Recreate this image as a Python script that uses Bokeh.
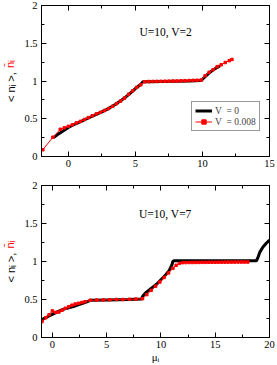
from bokeh.plotting import figure
from bokeh.models import (Range1d, FixedTicker, LinearAxis, Label, Legend,
                          LegendItem, CustomJSTickFormatter)
from bokeh.layouts import column
from bokeh.embed import file_html
from bokeh.resources import INLINE

# ---------------- data ----------------
# top panel: U=10, V=2
top_black_mu = [-1.1, -0.8, -0.5, -0.2, 0.0, 0.5, 1.0, 1.5, 2.0, 2.5, 3.0, 3.5, 4.0,
                4.5, 5.0, 5.3, 5.45, 5.55, 6.0, 7.0, 8.0, 9.0, 9.9, 10.1, 10.4,
                10.7, 11.0, 11.3]
top_black_n = [0.25, 0.29, 0.325, 0.36, 0.385, 0.43, 0.47, 0.51, 0.55, 0.59, 0.635,
               0.69, 0.75, 0.82, 0.90, 0.94, 0.965, 0.99, 0.99, 0.993, 0.997, 1.0,
               1.005, 1.04, 1.09, 1.135, 1.17, 1.2]

top_red_mu = [-1.9, -1.15, -0.6, -0.3, 0.0, 0.3, 0.6, 0.9, 1.2, 1.5, 1.8, 2.1, 2.4,
              2.7, 3.0, 3.3, 3.6, 3.9, 4.2, 4.5, 4.8, 5.1, 5.4, 5.7, 6.0, 6.3, 6.6,
              6.9, 7.2, 7.5, 7.8, 8.1, 8.4, 8.7, 9.0, 9.3, 9.6, 9.9, 10.2, 10.5,
              10.8, 11.1, 11.4, 11.7, 12.0, 12.2]
top_red_n = [0.09, 0.255, 0.36, 0.38, 0.40, 0.42, 0.445, 0.465, 0.49, 0.515, 0.54,
             0.565, 0.585, 0.61, 0.635, 0.665, 0.70, 0.735, 0.775, 0.825, 0.87,
             0.915, 0.95, 0.99, 0.993, 0.994, 0.995, 0.996, 0.997, 0.998, 0.999,
             1.0, 1.002, 1.004, 1.006, 1.008, 1.01, 1.012, 1.07, 1.115, 1.15, 1.19,
             1.215, 1.245, 1.27, 1.285]

# bottom panel: U=10, V=7
bot_black_mu = [-0.95, -0.5, 0.0, 0.5, 1.0, 1.5, 2.0, 2.5, 3.0, 3.5, 5.0, 7.0, 8.2,
                8.35, 8.6, 9.1, 9.6, 10.0, 10.4, 10.75, 11.0, 11.1, 11.2, 13.0, 15.0,
                17.0, 18.8, 18.9, 19.1, 19.4, 19.7, 20.0]
bot_black_n = [0.235, 0.27, 0.305, 0.34, 0.37, 0.39, 0.41, 0.435, 0.46, 0.49, 0.495,
               0.50, 0.505, 0.55, 0.59, 0.645, 0.70, 0.76, 0.82, 0.88, 0.95, 1.0,
               1.01, 1.01, 1.01, 1.01, 1.01, 1.04, 1.12, 1.19, 1.24, 1.28]

bot_red_mu = [-0.95, -0.6, -0.3, 0.0, 0.3, 0.6, 0.9, 1.2, 1.5, 1.8, 2.1, 2.4, 2.7,
              3.0, 3.5, 4.1, 4.7, 5.3, 5.9, 6.5, 7.1, 7.7, 8.3, 8.7, 9.1, 9.5, 9.9,
              10.3, 10.7, 11.1, 11.4, 11.7, 12.0, 12.3, 12.6, 12.9, 13.2, 13.5,
              13.8, 14.1, 14.4, 14.7, 15.0, 15.3, 15.6, 15.9, 16.2, 16.5, 16.8,
              17.1, 17.4, 17.7, 18.0]
bot_red_n = [0.21, 0.26, 0.30, 0.35, 0.33, 0.335, 0.36, 0.385, 0.405, 0.425, 0.44,
             0.45, 0.46, 0.47, 0.49, 0.492, 0.495, 0.497, 0.50, 0.50, 0.503, 0.505,
             0.51, 0.565, 0.62, 0.675, 0.73, 0.79, 0.85, 0.91, 0.95, 0.975, 0.985,
             0.986, 0.987, 0.987, 0.988, 0.988, 0.989, 0.989, 0.99, 0.99, 0.99,
             0.991, 0.991, 0.991, 0.992, 0.992, 0.992, 0.993, 0.993, 0.993, 0.993]

x_major_top = [0, 5, 10, 15]
x_minor_top = [2.5, 7.5, 12.5]
x_major_bot = [0, 5, 10, 15, 20]
x_minor_bot = [2.5, 7.5, 12.5, 17.5]
y_major = [0, 0.5, 1, 1.5, 2]
y_minor = [0.25, 0.75, 1.25, 1.75]

titles = ["U=10, V=2", "U=10, V=7"]
legend_labels = ["V\u00a0\u00a0= 0", "V\u00a0\u00a0= 0.008"]
NB = "\u00a0"
ylabel_black = "< n\u1d62 >, " + NB * 3
ylabel_red = NB * 11 + "n\u0304\u1d62"
xlabel = "\u03bc\u1d62"

SERIF = "Liberation Serif"
SANS = "Liberation Sans"
fmt = CustomJSTickFormatter(code="return tick.toString()")

W = 277
BL, BR = 36, 8


def style_axis(ax, major, minor, labels):
    ax.ticker = FixedTicker(ticks=major, minor_ticks=minor)
    ax.major_tick_in = 5
    ax.major_tick_out = 0
    ax.minor_tick_in = 3
    ax.minor_tick_out = 0
    ax.axis_line_color = "black"
    ax.major_tick_line_color = "black"
    ax.minor_tick_line_color = "black"
    ax.formatter = fmt
    if labels:
        ax.major_label_text_font = SERIF
        ax.major_label_text_font_size = "10.5px"
        ax.major_label_text_color = "black"
        ax.major_label_standoff = 4
    else:
        ax.major_label_text_font_size = "0px"
        ax.major_label_text_color = None
        ax.major_label_standoff = 0


class Px:
    """convert canvas pixel offsets of a panel to its data coordinates"""
    def __init__(self, xr, yr, top, height, bottom):
        self.xr, self.yr, self.top = xr, yr, top
        self.fw = W - BL - BR
        self.fh = height - top - bottom

    def x(self, cx):
        return self.xr[0] + (cx - BL) * (self.xr[1] - self.xr[0]) / self.fw

    def y(self, cy):
        return self.yr[0] + (self.top + self.fh - cy) * (self.yr[1] - self.yr[0]) / self.fh


def make_panel(height, top_border, bottom_border, xr, xmaj, xmin,
               bmu, bn, rmu, rn, title, title_xy, with_legend):
    yr = (0, 2)
    p = figure(width=W, height=height, output_backend="svg",
               toolbar_location=None, x_range=Range1d(*xr),
               y_range=Range1d(*yr),
               min_border_left=BL, min_border_right=BR,
               min_border_top=top_border, min_border_bottom=bottom_border)
    px = Px(xr, yr, top_border, height, bottom_border)
    p.grid.visible = False
    p.outline_line_color = "black"
    p.background_fill_color = "white"
    p.border_fill_color = "white"
    xbot = p.xaxis[0]
    style_axis(xbot, xmaj, xmin, True)
    xbot.major_label_standoff = 3
    yax = p.yaxis[0]
    style_axis(yax, y_major, y_minor, True)
    yax.axis_label = ylabel_black
    yax.axis_label_text_font = SANS
    yax.axis_label_text_font_size = "11px"
    yax.axis_label_text_font_style = "normal"
    yax.axis_label_text_color = "black"
    yax.axis_label_standoff = 4

    # second (outer) left axis carrying only the red part of the label
    red_ax = LinearAxis(ticker=FixedTicker(ticks=[], minor_ticks=[]),
                        axis_line_color=None, major_tick_line_color=None,
                        minor_tick_line_color=None,
                        major_label_text_font_size="0px",
                        major_label_text_color=None,
                        major_tick_in=0, major_tick_out=0,
                        minor_tick_in=0, minor_tick_out=0,
                        major_label_standoff=0,
                        axis_label=ylabel_red, axis_label_text_font=SANS,
                        axis_label_text_font_size="11px",
                        axis_label_text_font_style="normal",
                        axis_label_text_color="red",
                        axis_label_standoff=-13)
    p.add_layout(red_ax, "left")

    ra = LinearAxis()
    style_axis(ra, y_major, y_minor, False)
    p.add_layout(ra, "right")
    ta = LinearAxis()
    style_axis(ta, xmaj, xmin, False)
    p.add_layout(ta, "above")

    bl = p.line(bmu, bn, line_color="black", line_width=3)
    rl = p.line(rmu, rn, line_color="red", line_width=1)
    rs = p.scatter(rmu, rn, marker="square", size=2.5, color="red")

    p.add_layout(Label(x=title_xy[0], y=title_xy[1], text=title,
                       text_font=SERIF, text_font_size="11.5px",
                       text_color="black", text_baseline="alphabetic"))

    if with_legend:
        leg = Legend(items=[LegendItem(label=legend_labels[0], renderers=[bl]),
                            LegendItem(label=legend_labels[1], renderers=[rl, rs])],
                     location=(150, 25))
        leg.label_text_font = SERIF
        leg.label_text_font_size = "9.5px"
        leg.label_height = 11
        leg.glyph_height = 11
        leg.glyph_width = 17
        leg.label_standoff = 3
        leg.spacing = 0
        leg.padding = 3
        leg.margin = 0
        leg.border_line_color = "#333333"
        leg.border_line_width = 1
        leg.background_fill_color = "white"
        leg.background_fill_alpha = 1
        p.add_layout(leg)
        for cy in (115, 126):
            p.add_layout(Label(x=px.x(216), y=px.y(cy), text="T",
                               text_font=SERIF, text_font_size="7px",
                               text_baseline="middle", text_color="black"))
    return p, xbot


p1, xb1 = make_panel(176, 5, 20, (-2, 15), x_major_top, x_minor_top,
                     top_black_mu, top_black_n, top_red_mu, top_red_n,
                     titles[0], (5.3, 1.655), True)
p2, xb2 = make_panel(189, 9, 28, (-1, 20), x_major_bot, x_minor_bot,
                     bot_black_mu, bot_black_n, bot_red_mu, bot_red_n,
                     titles[1], (7.98, 1.62), False)
xb2.axis_label = xlabel
xb2.axis_label_text_font = SERIF
xb2.axis_label_text_font_size = "11px"
xb2.axis_label_text_font_style = "normal"
xb2.axis_label_text_color = "black"
xb2.axis_label_standoff = 0

layout = column(p1, p2, spacing=0)
open("out.html", "w").write(file_html(layout, INLINE))
